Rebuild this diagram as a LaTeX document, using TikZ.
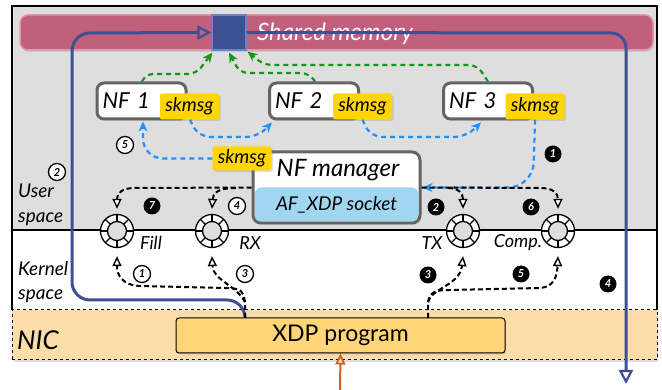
\documentclass[tikz,border=0pt]{standalone}
\usepackage{fontspec}
\setmainfont{Lato}
\usetikzlibrary{arrows.meta,shadows}
\definecolor{bggray}{RGB}{222,222,222}
\definecolor{barpink}{RGB}{193,96,122}
\definecolor{barline}{RGB}{228,150,168}
\definecolor{navy}{RGB}{59,81,147}
\definecolor{sqline}{RGB}{110,130,200}
\definecolor{boxgray}{RGB}{100,100,100}
\definecolor{skyel}{RGB}{255,214,0}
\definecolor{afblue}{RGB}{160,215,240}
\definecolor{gdcol}{RGB}{20,150,20}
\definecolor{bdcol}{RGB}{30,144,255}
\definecolor{nicfill}{RGB}{252,220,168}
\definecolor{xdpfill}{RGB}{255,213,120}
\definecolor{orarrow}{RGB}{200,100,30}
\newcommand\fsz[1]{\fontsize{#1}{#1}\selectfont}
\begin{document}
\begin{tikzpicture}[x=1pt,y=-1pt,
 nfbox/.style={draw=boxgray, line width=3pt, fill=white, rounded corners=7pt, minimum width=89pt, minimum height=36pt, text width=78pt, inner xsep=4pt, align=left, font=\itshape\fsz{22}, drop shadow={opacity=0.25, shadow xshift=1.5pt, shadow yshift=-2pt}},
 sklabel/.style={fill=skyel, rounded corners=2pt, inner sep=0pt, minimum width=59pt, minimum height=26pt, font=\itshape\fsz{19}, drop shadow={opacity=0.25, shadow xshift=1.5pt, shadow yshift=-1.5pt}},
 ringout/.style={circle, draw, line width=1.3pt, fill=white, minimum size=33pt, inner sep=0pt},
 ringin/.style={circle, draw, line width=1.3pt, fill=bggray, minimum size=19pt, inner sep=0pt},
 ringlab/.style={font=\itshape\fsz{18}},
 sidelab/.style={font=\itshape\fsz{19}, inner sep=0pt, anchor=base west},
 wnum/.style={circle, draw, line width=1.3pt, fill=white, inner sep=0pt, minimum size=17pt, font=\bfseries\itshape\fsz{11}},
 bnum/.style={circle, fill=black, text=white, inner sep=0pt, minimum size=17pt, font=\bfseries\itshape\fsz{11}},
 bline/.style={draw=navy, line width=3pt},
 gdash/.style={draw=gdcol, line width=2.2pt, dash pattern=on 5pt off 4pt, rounded corners=8pt, -{Stealth[length=10pt,width=9pt]}},
 bdash/.style={draw=bdcol, line width=2.2pt, dash pattern=on 5pt off 4pt, -{Stealth[length=10pt,width=9pt]}},
 kdash/.style={draw=black, line width=2pt, dash pattern=on 5pt off 3pt, -{Triangle[length=10pt,width=9pt,fill=white,line width=1.4pt]}},
]
\useasboundingbox (0,0) rectangle (662,390);
% regions
\fill[bggray] (12,6) rectangle (657,230);
\fill[white] (12,230) rectangle (657,310);
\draw[line width=1.2pt] (12,310) -- (12,6) -- (657,6) -- (657,310);
\draw[line width=1.2pt] (12,230) -- (657,230);
\node[draw, dashed, line width=1pt, fill=nicfill, minimum width=645pt, minimum height=50pt, inner sep=0pt, drop shadow={opacity=0.25, shadow xshift=1pt, shadow yshift=-2pt}] (nic) at (334.5,335) {};
\node[sidelab, font=\itshape\fsz{26}] (nict) at (17,349) {NIC};
\node[sidelab] (us1) at (18,198) {User};
\node[sidelab] (us2) at (18,223) {space};
\node[sidelab] (ks1) at (18,276) {Kernel};
\node[sidelab] (ks2) at (18,300) {space};
% shared memory
\node[draw=barline, line width=1.5pt, fill=barpink, rounded corners=8pt, minimum width=633pt, minimum height=35pt, inner sep=0pt, drop shadow={opacity=0.25, shadow xshift=1pt, shadow yshift=-2pt}] (bar) at (336.5,32.5) {};
\node[text=white, font=\itshape\fsz{24}] (shm) at (335,34) {Shared memory};
% XDP program
\node[draw, line width=1pt, fill=xdpfill, rounded corners=3pt, minimum width=329pt, minimum height=35pt, inner sep=0pt, font=\fsz{23}, drop shadow={opacity=0.3, shadow xshift=1pt, shadow yshift=-1.5pt}] (xdp) at (340.5,335.5) {XDP program};
\coordinate (xl) at (245,318);
\coordinate (xr) at (428,318);
% square
\node[draw=sqline, line width=1.2pt, fill=navy, minimum width=34pt, minimum height=35pt, inner sep=0pt] (sq) at (229,32.5) {};
\coordinate (bout) at (626,384);
\draw[bline, rounded corners=18pt, -{Triangle[open,length=14pt,width=14pt,line width=2.2pt]}] (xl) -- (245,300) -- (72,300) -- (72,33) -- (sq.west);
\draw[bline, rounded corners=15pt, -{Triangle[open,length=14pt,width=14pt,line width=2.2pt]}] (sq.east) -- (626,33) -- (bout);
% NF boxes
\node[nfbox] (nf1) at (141.5,101) {NF 1};
\node[nfbox] (nf2) at (314,101) {NF 2};
\node[nfbox] (nf3) at (488,101) {NF 3};
\node[sklabel] (s1) at (189.5,106.5) {skmsg};
\node[sklabel] (s2) at (362.5,106.5) {skmsg};
\node[sklabel] (s3) at (535,106.5) {skmsg};
% green
\draw[gdash] ([xshift=0.5pt]nf1.north) -- (145,74) -- (196,74) -- ([shift={(1,2)}]sq.south west);
\draw[gdash] ([xshift=1pt]nf2.north) -- (309,73) -- (240,73) -- ([yshift=-2pt]sq.south);
\draw[gdash] (nf3.north) -- (477,65) -- (264,65) -- ([shift={(1,1)}]sq.south east);
% manager
\node[draw=boxgray, line width=3pt, fill=white, rounded corners=8pt, minimum width=167pt, minimum height=71pt, inner sep=0pt, drop shadow={opacity=0.25, shadow xshift=1.5pt, shadow yshift=-2pt}] (mgr) at (336.5,187.5) {};
\node[fill=afblue, rounded corners=6pt, minimum width=163pt, minimum height=34pt, inner sep=0pt, font=\itshape\fsz{19}] (afx) at (336.5,204.5) {AF\_XDP socket};
\node[font=\itshape\fsz{24}, inner sep=0pt] (mgrt) at (338,170) {NF manager};
\node[sklabel, minimum height=24pt] (sm) at (242,158.5) {skmsg};
% blue dashed
\draw[bdash, rounded corners=20pt] (sm.west) -- (143,158.5) -- ([shift={(1.5,1)}]nf1.south);
\draw[bdash, rounded corners=12pt] ([xshift=0.5pt]s1.south) -- (198,137) -- (258,137) -- ([shift={(4,2)}]nf2.south west);
\draw[bdash, rounded corners=12pt] (s2.south) -- (370,137) -- (466,137) -- ([shift={(39,2)}]nf3.south west);
\draw[bdash, rounded corners=25pt] (s3.south) -- (533,187.5) -- ([xshift=1pt]mgr.east);
% rings
\foreach \n/\x in {fillr/117, rxr/212, txr/463, compr/558} {
  \node[ringout] (\n) at (\x,231) {};
  \foreach \a in {0,45,...,315} \draw[line width=1.2pt] (\x,231) ++(\a:9) -- ++(\a:7.5);
  \node[ringin] at (\x,231) {};
}
\node[ringlab] (lfill) at (151,243) {Fill};
\node[ringlab] (lrx) at (250,243) {RX};
\node[ringlab] (ltx) at (432,243) {TX};
\node[ringlab] (lcomp) at (518,243) {Comp.};
% black dashed user
\draw[kdash] (mgr.west) -- (135,188) .. controls (122,188) and (117,193) .. ([yshift=5pt]fillr.north);
\draw[kdash] (236,188) .. controls (218,188) and (213,193) .. ([yshift=5pt]rxr.north);
\draw[kdash] (mgr.east) -- (540,188) .. controls (553,188) and (558,193) .. ([yshift=5pt]compr.north);
\draw[kdash] (448,188) .. controls (458,188) and (463,193) .. ([yshift=5pt]txr.north);
% black dashed kernel
\draw[kdash] (xl) -- (245,302) .. controls (243,290) and (240,288) .. (225,288) -- (140,286) .. controls (122,285) and (117,275) .. ([yshift=-8pt]fillr.south);
\draw[kdash] (245,302) .. controls (236,285) and (213,280) .. ([yshift=-8pt]rxr.south);
\draw[kdash] (xr) -- (428,302) .. controls (430,292) and (435,290) .. (450,290) -- (540,288) .. controls (553,287) and (557,278) .. ([yshift=-8pt]compr.south);
\draw[kdash] (428,302) .. controls (432,288) and (460,285) .. ([yshift=-8pt]txr.south);
% numbers
\node[wnum] (n2w) at (57,172) {2};
\node[wnum] (n5w) at (125,145) {5};
\node[wnum] (n4w) at (237,206) {4};
\node[bnum] (n7b) at (152,206) {7};
\node[bnum] (n2b) at (436,207) {2};
\node[bnum] (n6b) at (531,207) {6};
\node[bnum] (n1b) at (553,154) {1};
\node[wnum] (n1w) at (142,274) {1};
\node[wnum] (n3w) at (245,274) {3};
\node[bnum] (n3b) at (428,275) {3};
\node[bnum] (n5b) at (521,274) {5};
\node[bnum] (n4b) at (608,284) {4};
% orange arrow
\coordinate (orin) at (340,390);
\draw[draw=orarrow, line width=2pt, -{Triangle[open,length=11pt,width=10pt,line width=1.8pt]}] (orin) -- (xdp.south);
\end{tikzpicture}
\end{document}
